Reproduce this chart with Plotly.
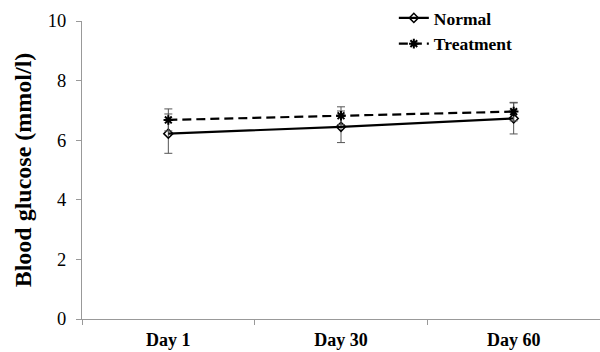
import plotly.graph_objects as go

days = ["Day 1", "Day 30", "Day 60"]
normal = [6.22, 6.45, 6.73]
normal_err = [0.66, 0.53, 0.52]
treatment = [6.68, 6.82, 6.96]
treatment_err = [0.37, 0.3, 0.31]
y_ticks = [0, 2, 4, 6, 8, 10]

fig = go.Figure()
fig.add_trace(go.Scatter(
    x=days, y=normal, name="Normal", mode="lines+markers",
    line=dict(color="black", width=2.2),
    marker=dict(symbol="diamond-open", size=7, color="black", line=dict(width=1.5)),
    error_y=dict(type="data", array=normal_err, visible=True, color="#555555", thickness=1, width=4),
))
fig.add_trace(go.Scatter(
    x=days, y=treatment, name="Treatment", mode="lines+markers",
    line=dict(color="black", width=2.2, dash="9px,5px"),
    marker=dict(symbol="asterisk-open", size=8, color="black", line=dict(width=2, color="black")),
    error_y=dict(type="data", array=treatment_err, visible=True, color="#555555", thickness=1, width=4),
))

fig.update_layout(
    width=600, height=352,
    margin=dict(l=82, r=0, t=21, b=33),
    paper_bgcolor="white", plot_bgcolor="white",
    font=dict(family="Liberation Serif", color="black"),
    legend=dict(x=0.602, y=1.072, xanchor="left", yanchor="top",
                font=dict(size=17.5, family="Liberation Serif", weight="bold"),
                bgcolor="rgba(0,0,0,0)", tracegroupgap=0, itemwidth=30),
    showlegend=True,
)
fig.update_xaxes(
    type="category", range=[-0.5, 2.5], showline=True, linecolor="#999999", linewidth=1,
    ticks="outside", ticklen=5, tickcolor="#999999", tickson="boundaries",
    showgrid=False, zeroline=False,
    tickfont=dict(size=18, family="Liberation Serif", weight="bold"),
    ticklabelstandoff=4,
)
fig.update_yaxes(
    range=[0, 10], tickvals=y_ticks, showline=True, linecolor="#999999", linewidth=1,
    ticks="outside", ticklen=5, tickcolor="#999999",
    showgrid=False, zeroline=False,
    tickfont=dict(size=18.5, family="Liberation Serif"),
    ticklabelstandoff=6,
    title=dict(text="Blood glucose (mmol/l)", standoff=9,
               font=dict(size=24, family="Liberation Serif", weight="bold")),
)
fig.write_html("out.html")
